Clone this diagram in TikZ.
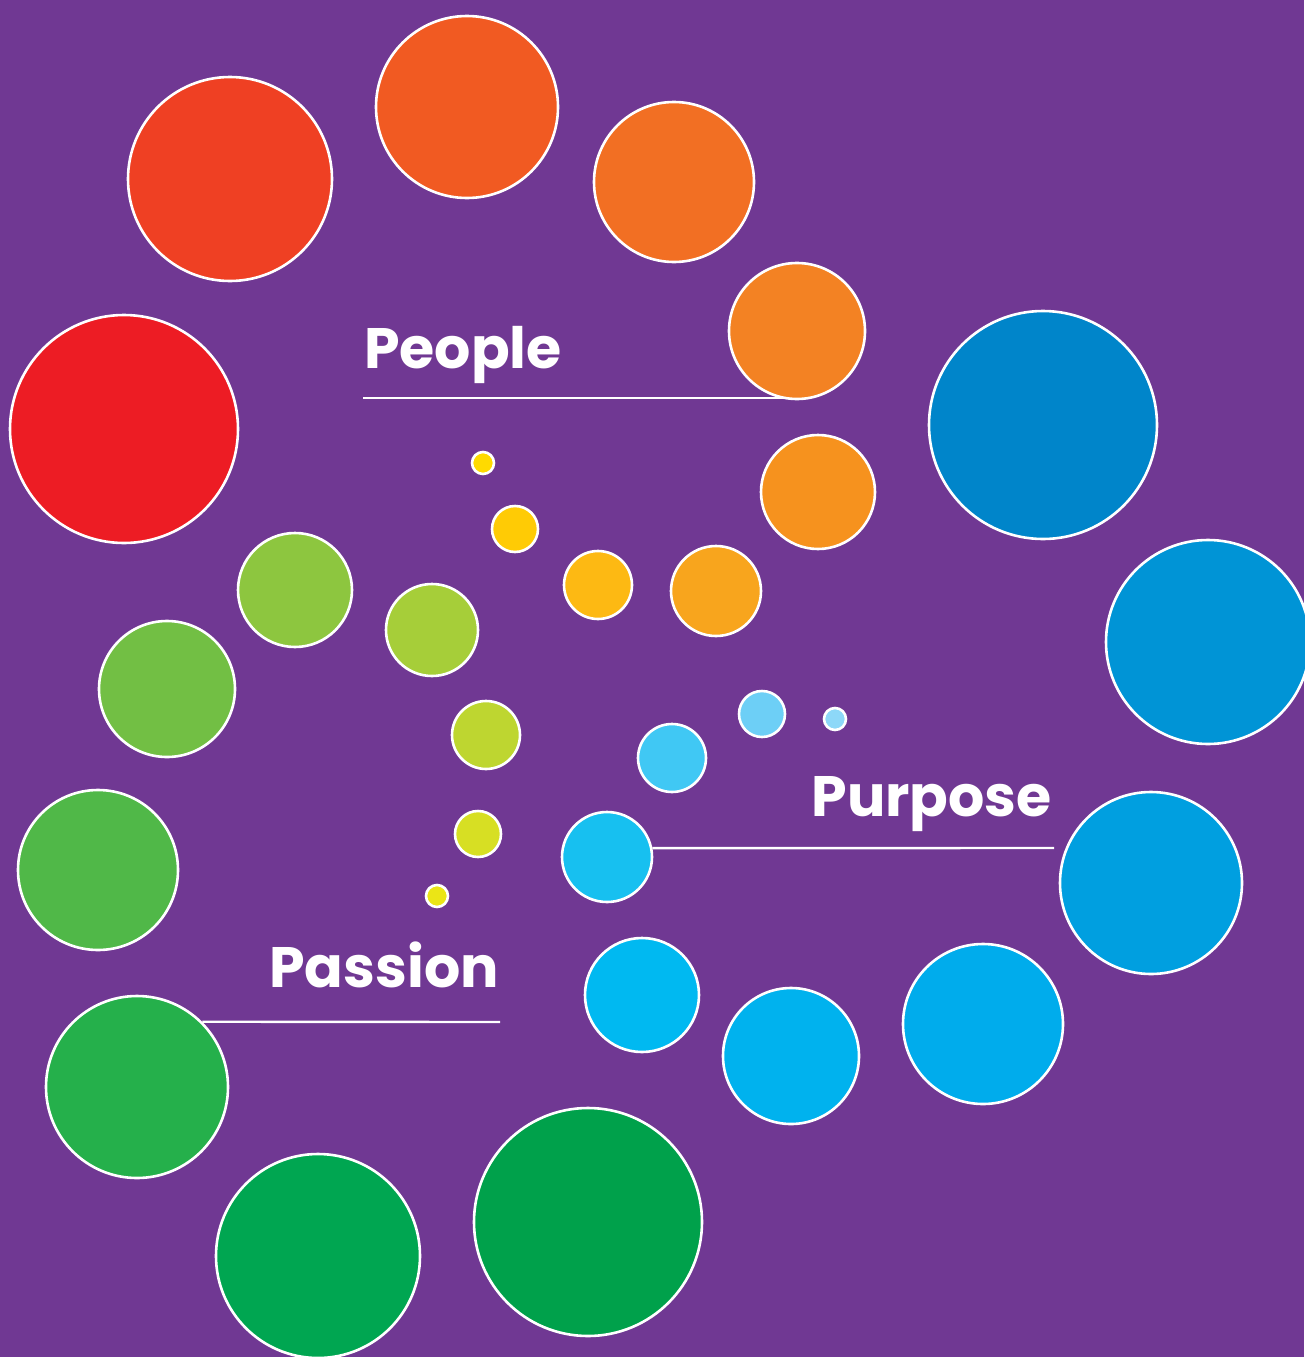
\documentclass[tikz,border=0pt]{standalone}
\usepackage{fontspec}
\newfontfamily\lblfont{Poppins}[UprightFont=* Bold]
\definecolor{bg}{HTML}{703893}
\begin{document}
\begin{tikzpicture}[x=1pt,y=-1pt,
  dot/.style={circle,inner sep=0pt,draw=white,line width=2.6pt},
  rule/.style={draw=white,line width=2.4pt},
  lbl/.style={text=white,inner sep=0pt,font=\lblfont\fontsize{57}{57}\selectfont}]
\fill[bg] (0,0) rectangle (1304,1357);
\useasboundingbox (0,0) rectangle (1304,1357);
% labels
\node[lbl,anchor=base west] (people) at (364,368) {People};
\node[lbl,anchor=base east] (purpose) at (1052,816) {Purpose};
\node[lbl,anchor=base east] (passion) at (499,987) {Passion};
\coordinate (pl) at (363,398);
\coordinate (pu) at (1054,848);
\coordinate (pa) at (500,1022);
% red / orange / yellow arm
\definecolor{r1}{HTML}{ED1C24}\node[dot,fill=r1,minimum size=228pt] (r1) at (124,429) {};
\definecolor{r2}{HTML}{EF4023}\node[dot,fill=r2,minimum size=204pt] (r2) at (230,179) {};
\definecolor{r3}{HTML}{F15A22}\node[dot,fill=r3,minimum size=182pt] (r3) at (467,107) {};
\definecolor{r4}{HTML}{F26F23}\node[dot,fill=r4,minimum size=160pt] (r4) at (674,182) {};
\definecolor{r5}{HTML}{F38223}\node[dot,fill=r5,minimum size=136pt] (r5) at (797,331) {};
\definecolor{r6}{HTML}{F6921E}\node[dot,fill=r6,minimum size=114pt] (r6) at (818,492) {};
\definecolor{r7}{HTML}{F8A51D}\node[dot,fill=r7,minimum size=90pt] (r7) at (716,591) {};
\definecolor{r8}{HTML}{FDB913}\node[dot,fill=r8,minimum size=68pt] (r8) at (598,585) {};
\definecolor{r9}{HTML}{FFCB05}\node[dot,fill=r9,minimum size=46pt] (r9) at (515,529) {};
\definecolor{r10}{HTML}{FFDA00}\node[dot,fill=r10,minimum size=22pt] (r10) at (483,463) {};
% green arm
\definecolor{g1}{HTML}{00A14B}\node[dot,fill=g1,minimum size=228pt] (g1) at (588,1222) {};
\definecolor{g2}{HTML}{00A651}\node[dot,fill=g2,minimum size=204pt] (g2) at (318,1256) {};
\definecolor{g3}{HTML}{25B04B}\node[dot,fill=g3,minimum size=182pt] (g3) at (137,1087) {};
\definecolor{g4}{HTML}{50B848}\node[dot,fill=g4,minimum size=160pt] (g4) at (98,870) {};
\definecolor{g5}{HTML}{72BF44}\node[dot,fill=g5,minimum size=136pt] (g5) at (167,689) {};
\definecolor{g6}{HTML}{8DC63F}\node[dot,fill=g6,minimum size=114pt] (g6) at (295,590) {};
\definecolor{g7}{HTML}{A6CE39}\node[dot,fill=g7,minimum size=92pt] (g7) at (432,630) {};
\definecolor{g8}{HTML}{BED630}\node[dot,fill=g8,minimum size=68pt] (g8) at (486,735) {};
\definecolor{g9}{HTML}{D7DF23}\node[dot,fill=g9,minimum size=46pt] (g9) at (478,834) {};
\definecolor{g10}{HTML}{EBE516}\node[dot,fill=g10,minimum size=22pt] (g10) at (437,896) {};
% blue arm
\definecolor{b1}{HTML}{0085CA}\node[dot,fill=b1,minimum size=228pt] (b1) at (1043,425) {};
\definecolor{b2}{HTML}{0094D6}\node[dot,fill=b2,minimum size=204pt] (b2) at (1208,642) {};
\definecolor{b3}{HTML}{009FE0}\node[dot,fill=b3,minimum size=182pt] (b3) at (1151,883) {};
\definecolor{b4}{HTML}{00ACEC}\node[dot,fill=b4,minimum size=160pt] (b4) at (983,1024) {};
\definecolor{b5}{HTML}{00B2EE}\node[dot,fill=b5,minimum size=136pt] (b5) at (791,1056) {};
\definecolor{b6}{HTML}{00B9F1}\node[dot,fill=b6,minimum size=114pt] (b6) at (642,995) {};
\definecolor{b7}{HTML}{17C0F0}\node[dot,fill=b7,minimum size=90pt] (b7) at (607,857) {};
\definecolor{b8}{HTML}{40C8F4}\node[dot,fill=b8,minimum size=68pt] (b8) at (672,758) {};
\definecolor{b9}{HTML}{6DCFF6}\node[dot,fill=b9,minimum size=46pt] (b9) at (762,714) {};
\definecolor{b10}{HTML}{8DD8F8}\node[dot,fill=b10,minimum size=22pt] (b10) at (835,719) {};
% rules from labels to circles
\draw[rule] (pl) -- (pl -| r5.-100);
\draw[rule] (pu) -- (b7.11.5);
\draw[rule] (pa) -- (g3.45.5);
\end{tikzpicture}
\end{document}
